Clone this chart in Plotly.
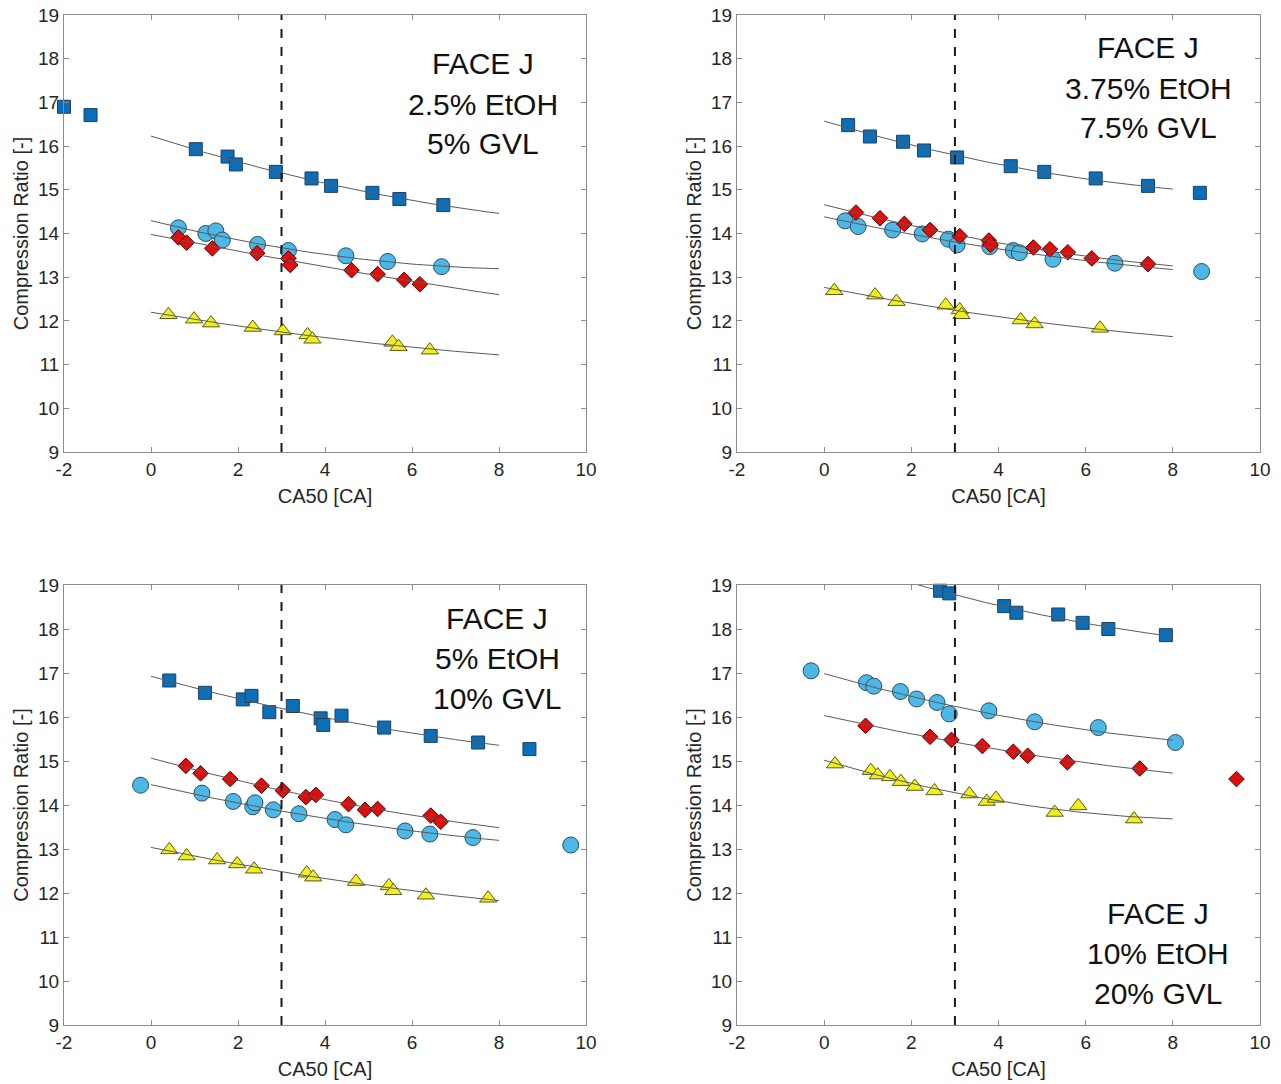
import numpy as np
import plotly.graph_objects as go

# CA50 [CA] and compression ratio [-] for each blend, grouped by marker series
# Panel 1: FACE J + 2.5% EtOH + 5% GVL
p1_sq_x = [-2.00, -1.39, 1.03, 1.76, 1.95, 2.87, 3.69, 4.14, 5.09, 5.71, 6.72]
p1_sq_y = [16.90, 16.71, 15.93, 15.76, 15.58, 15.41, 15.26, 15.09, 14.93, 14.79, 14.65]
p1_ci_x = [0.63, 1.26, 1.49, 1.64, 2.45, 3.16, 4.48, 5.44, 6.68]
p1_ci_y = [14.13, 14.00, 14.06, 13.85, 13.75, 13.61, 13.49, 13.36, 13.24]
p1_di_x = [0.63, 0.82, 1.41, 2.44, 3.16, 3.20, 4.61, 5.21, 5.82, 6.18]
p1_di_y = [13.91, 13.79, 13.66, 13.55, 13.43, 13.28, 13.16, 13.07, 12.94, 12.84]
p1_tr_x = [0.40, 0.99, 1.38, 2.34, 3.03, 3.60, 3.71, 5.55, 5.69, 6.41]
p1_tr_y = [12.14, 12.04, 11.95, 11.85, 11.77, 11.68, 11.58, 11.51, 11.41, 11.33]

# Panel 2: FACE J + 3.75% EtOH + 7.5% GVL
p2_sq_x = [0.55, 1.05, 1.81, 2.29, 3.05, 4.28, 5.05, 6.23, 7.43, 8.62]
p2_sq_y = [16.48, 16.22, 16.10, 15.90, 15.74, 15.54, 15.41, 15.26, 15.09, 14.93]
p2_ci_x = [0.48, 0.78, 1.57, 2.25, 2.85, 3.05, 3.80, 4.34, 4.48, 5.25, 6.67, 8.66]
p2_ci_y = [14.29, 14.16, 14.08, 13.99, 13.87, 13.74, 13.70, 13.61, 13.56, 13.41, 13.32, 13.13]
p2_di_x = [0.73, 1.28, 1.84, 2.43, 3.11, 3.78, 3.82, 4.80, 5.18, 5.59, 6.14, 7.43]
p2_di_y = [14.48, 14.35, 14.22, 14.08, 13.94, 13.84, 13.74, 13.68, 13.64, 13.57, 13.43, 13.30]
p2_tr_x = [0.23, 1.17, 1.66, 2.79, 3.11, 3.15, 4.51, 4.83, 6.33]
p2_tr_y = [12.69, 12.59, 12.44, 12.36, 12.25, 12.14, 12.02, 11.93, 11.83]

# Panel 3: FACE J + 5% EtOH + 10% GVL
p3_sq_x = [0.42, 1.24, 2.11, 2.31, 2.72, 3.26, 3.90, 3.96, 4.38, 5.36, 6.43, 7.52, 8.70]
p3_sq_y = [16.83, 16.55, 16.40, 16.48, 16.11, 16.25, 15.97, 15.82, 16.03, 15.76, 15.57, 15.42, 15.27]
p3_ci_x = [-0.24, 1.17, 1.89, 2.34, 2.39, 2.81, 3.40, 4.23, 4.48, 5.84, 6.41, 7.40, 9.65]
p3_ci_y = [14.45, 14.27, 14.08, 13.96, 14.05, 13.89, 13.80, 13.67, 13.55, 13.41, 13.34, 13.26, 13.09]
p3_di_x = [0.80, 1.14, 1.82, 2.54, 3.03, 3.56, 3.79, 4.54, 4.92, 5.21, 6.43, 6.66]
p3_di_y = [14.89, 14.72, 14.59, 14.44, 14.33, 14.18, 14.23, 14.02, 13.89, 13.91, 13.76, 13.62]
p3_tr_x = [0.42, 0.82, 1.52, 1.98, 2.37, 3.58, 3.73, 4.71, 5.47, 5.57, 6.32, 7.75]
p3_tr_y = [12.98, 12.84, 12.75, 12.66, 12.54, 12.45, 12.36, 12.26, 12.16, 12.05, 11.95, 11.88]

# Panel 4: FACE J + 10% EtOH + 20% GVL
p4_sq_x = [2.66, 2.87, 4.13, 4.41, 5.37, 5.93, 6.52, 7.84]
p4_sq_y = [18.87, 18.81, 18.52, 18.37, 18.33, 18.14, 18.00, 17.86]
p4_ci_x = [-0.30, 0.97, 1.14, 1.75, 2.12, 2.59, 2.87, 3.78, 4.83, 6.29, 8.06]
p4_ci_y = [17.05, 16.78, 16.70, 16.58, 16.41, 16.33, 16.07, 16.14, 15.89, 15.76, 15.42]
p4_di_x = [0.95, 2.43, 2.92, 3.63, 4.34, 4.67, 5.58, 7.24, 9.46]
p4_di_y = [15.80, 15.55, 15.48, 15.34, 15.21, 15.12, 14.97, 14.83, 14.59]
p4_tr_x = [0.25, 1.07, 1.23, 1.51, 1.76, 2.08, 2.53, 3.33, 3.73, 3.94, 5.29, 5.83, 7.11]
p4_tr_y = [14.93, 14.78, 14.68, 14.64, 14.53, 14.42, 14.32, 14.25, 14.08, 14.15, 13.83, 13.98, 13.68]

panel_labels = [
    ["FACE J", "2.5% EtOH", "5% GVL"],
    ["FACE J", "3.75% EtOH", "7.5% GVL"],
    ["FACE J", "5% EtOH", "10% GVL"],
    ["FACE J", "10% EtOH", "20% GVL"],
]
x_ticks = [-2, 0, 2, 4, 6, 8, 10]
x_tick_text = ["-2", "0", "2", "4", "6", "8", "10"]
y_ticks = [9, 10, 11, 12, 13, 14, 15, 16, 17, 18, 19]
ca50_ref = 3
fit_range = (0, 8)

panels = [
    dict(sq=(p1_sq_x, p1_sq_y), ci=(p1_ci_x, p1_ci_y), di=(p1_di_x, p1_di_y), tr=(p1_tr_x, p1_tr_y)),
    dict(sq=(p2_sq_x, p2_sq_y), ci=(p2_ci_x, p2_ci_y), di=(p2_di_x, p2_di_y), tr=(p2_tr_x, p2_tr_y)),
    dict(sq=(p3_sq_x, p3_sq_y), ci=(p3_ci_x, p3_ci_y), di=(p3_di_x, p3_di_y), tr=(p3_tr_x, p3_tr_y)),
    dict(sq=(p4_sq_x, p4_sq_y), ci=(p4_ci_x, p4_ci_y), di=(p4_di_x, p4_di_y), tr=(p4_tr_x, p4_tr_y)),
]

W, H = 1281, 1084
# plot areas in pixels: (left, right, top, bottom)
boxes = [(64, 586, 15, 452), (737, 1260, 15, 452), (64, 586, 585, 1025), (737, 1260, 585, 1025)]
# text block centres in pixels: (x, first line y)
label_pos = [(483, 64), (1148, 48), (497, 618), (1158, 913)]

styles = {
    "sq": dict(symbol="square", size=13, color="#0a6fb8", line=dict(color="#1d3f66", width=1)),
    "ci": dict(symbol="circle", size=16, color="#4db8e6", line=dict(color="#2a4f66", width=1)),
    "di": dict(symbol="diamond", size=12, color="#e00d0d", line=dict(color="#5a0000", width=1)),
    "tr": dict(symbol="triangle-up", size=15, color="#f2f01a", line=dict(color="#5a5a20", width=1)),
}

FONT = "Liberation Sans, Arial, Helvetica, sans-serif"
fig = go.Figure()
annotations = []
shapes = []

for i, (pan, box) in enumerate(zip(panels, boxes)):
    n = "" if i == 0 else str(i + 1)
    xa, ya = "x" + n, "y" + n
    l, r, t, b = box
    fig.update_layout({
        "xaxis" + n: dict(
            domain=[l / W, r / W], range=[-2, 10], anchor=ya,
            tickvals=x_ticks, ticktext=x_tick_text, automargin=False,
            showline=True, linecolor="#8c8c8c", linewidth=1, mirror="ticks",
            ticks="inside", ticklen=5, tickcolor="#8c8c8c", showgrid=False, zeroline=False,
            tickfont=dict(family=FONT, size=19, color="#262626"),
            title=dict(text="CA50 [CA]", font=dict(family=FONT, size=20, color="#262626"), standoff=10),
        ),
        "yaxis" + n: dict(
            domain=[1 - b / H, 1 - t / H], range=[9, 19], anchor=xa, tickvals=y_ticks,
            automargin=False,
            showline=True, linecolor="#8c8c8c", linewidth=1, mirror="ticks",
            ticks="inside", ticklen=5, tickcolor="#8c8c8c", showgrid=False, zeroline=False,
            tickfont=dict(family=FONT, size=19, color="#262626"),
            title=dict(text="Compression Ratio [-]", font=dict(family=FONT, size=20, color="#262626"), standoff=4),
        ),
    })

    # measured points
    for key in ["sq", "ci", "di", "tr"]:
        xs, ys = pan[key]
        st = styles[key]
        fig.add_trace(go.Scatter(
            x=xs, y=ys, xaxis=xa, yaxis=ya, mode="markers", showlegend=False,
            cliponaxis=False,
            marker=dict(symbol=st["symbol"], size=st["size"], color=st["color"], line=st["line"]),
        ))

    # quadratic trend lines, drawn over the CA50 window
    for key in ["sq", "ci", "di", "tr"]:
        xs, ys = np.array(pan[key][0]), np.array(pan[key][1])
        coef = np.polyfit(xs, ys, 2)
        xf = np.linspace(fit_range[0], fit_range[1], 81)
        fig.add_trace(go.Scatter(
            x=xf, y=np.polyval(coef, xf), xaxis=xa, yaxis=ya, mode="lines", showlegend=False,
            line=dict(color="#5a5a5a", width=1),
        ))

    # reference CA50 line
    shapes.append(dict(type="line", xref=xa, yref=ya, x0=ca50_ref, x1=ca50_ref, y0=9, y1=19,
                       line=dict(color="#1a1a1a", width=2, dash="dash")))

    cx, cy = label_pos[i]
    for k, line in enumerate(panel_labels[i]):
        annotations.append(dict(
            text=line, xref="paper", yref="paper", x=cx / W, y=1 - (cy + 40 * k) / H,
            xanchor="center", yanchor="middle", showarrow=False,
            font=dict(family=FONT, size=30, color="#111111"),
        ))

fig.update_layout(
    width=W, height=H, margin=dict(l=0, r=0, t=0, b=0),
    paper_bgcolor="white", plot_bgcolor="white",
    annotations=annotations, shapes=shapes,
)

fig.write_html("out.html")
